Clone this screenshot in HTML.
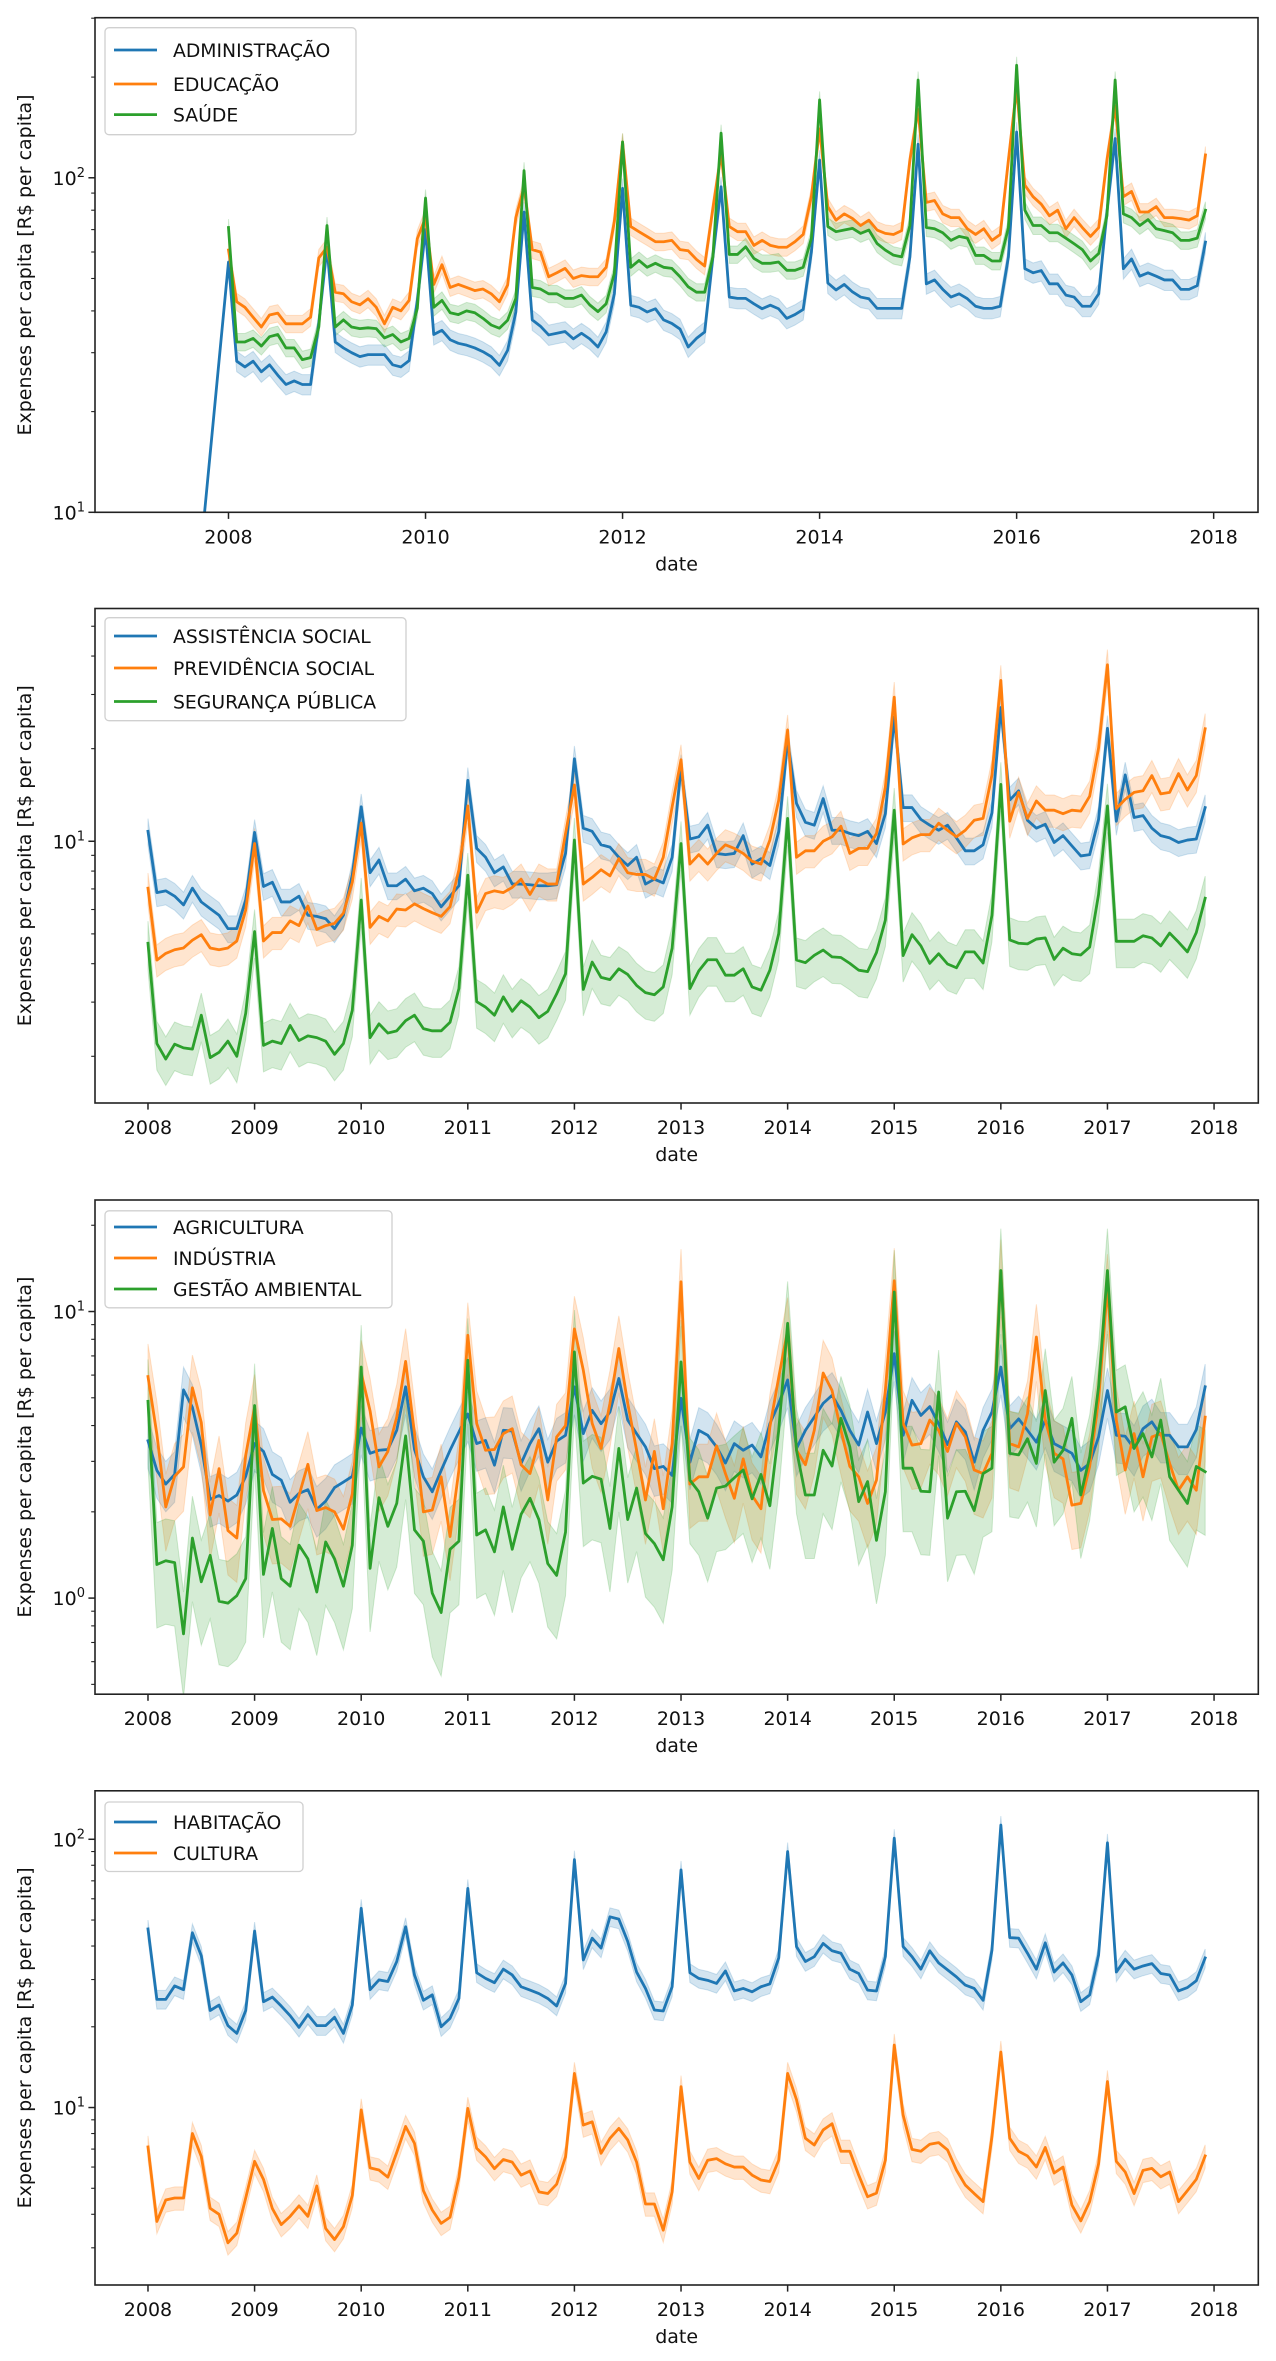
<!DOCTYPE html>
<html><head><meta charset="utf-8"><title>Expenses per capita</title>
<style>
html,body{margin:0;padding:0;background:#fff;}
svg{display:block;font-family:"DejaVu Sans","Liberation Sans",sans-serif;}
</style></head>
<body>
<svg id="fig" width="1276" height="2361" viewBox="0 0 1276 2361" xmlns="http://www.w3.org/2000/svg"></svg>
<script>
// ---------- DATA (monthly, Jan 2008 .. Dec 2017) ----------
const startYear = 2008;
const adminLeadYear = [2007.17];
const adminLeadValue = [0.155];
const administracao = [
56,28.3,27.2,28.3,26.3,27.6,25.7,24.1,24.7,24.1,24.1,36.8,
62,32.3,31,30,29.2,29.6,29.6,29.6,27.6,27.2,28.4,43,
70,34,35,32.8,32,31.6,31,30.2,29.2,27.5,30.5,39.7,
79,37.6,36,33.9,34.3,34.7,33,34.3,33,31.2,34.6,45,
93,41.6,41,39.7,40.6,37.6,36.7,35.3,31.2,33.1,34.6,58,
94,44,43.6,43.6,42,40.6,41.6,40.6,38,39,40.4,60,
113,48.5,46.2,48,45.6,44,43.5,40.7,40.7,40.7,40.7,58,
126,48.2,49.5,46.4,44,45,43.5,41.3,40.7,40.7,41.3,58,
137,53.5,52,52.8,48.2,48.2,44.6,44,41.3,41.3,45,79,
131,53.5,57.2,50.8,52,50.8,49.5,49.5,46.4,46.4,47.6,64.2];
const educacao = [
60.8,42.6,41,38.3,35.8,38.9,39.4,36.6,36.6,36.6,38.3,57.6,
62,45.5,45,42.6,41.7,43.5,41,36.6,41,40,43,65.8,
76,48,55,47,48,47,46,46.5,45,42.6,47.8,76,
94,61,60,50.6,52,53.6,50,51,50.6,50.6,54,74,
128,71.5,69,66.7,64.4,64.4,65,61,60.5,57,54.5,81,
118,71.5,69,69,62.8,65,62.8,62,62,64.4,67.7,88,
140,82,74.7,78,75.6,72,74.7,69.8,68.2,67.7,69.5,113,
160,84.4,85.5,78,76,76,70.4,67.7,70.4,65,67.7,113,
186,95,87.8,83.4,77,80,70.4,76,71,66.8,71,113,
164,87.8,91,79,79,82,76,76,75.5,74.7,77,117];
const saude = [
71,32.3,32.3,33.1,31.4,33.5,34,31,31,28.6,29,35.8,
72,35.8,37.6,35.8,35.4,35.6,35.4,33.2,34,32.3,33.1,40.7,
87,41,43,39.5,39,40,39.5,38,36.3,35.5,37.5,43.6,
105,47,46.5,45,45,43.6,43.6,44.6,41.7,39.8,42,51.8,
128,54,56.6,54,55.5,54,53.6,50.6,47.2,45.5,45.5,58,
136,59,59,62.2,57.4,55.5,55.5,56,52.9,52.9,54,66,
171,71.5,69,69.8,70.6,68.2,69.8,63.6,60.8,58.7,58,72,
196,71,70.4,68.5,65,66.8,66,58.6,58.6,56.4,56.4,71,
217,80,72,72,68.5,68.5,66,63.5,61,56.4,59.4,77,
196,78,76,72,75,70.4,69.5,68.5,65,65,66,80];
const assistencia = [
10.77,6.81,6.90,6.63,6.21,7.04,6.35,6.04,5.75,5.20,5.20,6.44,
10.69,7.13,7.36,6.35,6.35,6.63,5.75,5.70,5.60,5.20,5.75,7.78,
12.95,7.90,8.69,7.17,7.17,7.53,6.90,7.04,6.76,6.12,6.63,7.17,
15.79,9.48,8.87,7.90,8.25,7.26,7.26,7.22,7.17,7.17,7.22,9.13,
18.55,11.03,10.77,9.74,9.57,8.87,8.34,8.87,7.26,7.53,7.32,8.87,
17.38,10.17,10.34,11.28,9.13,9.05,9.13,10.43,8.43,8.78,8.34,10.77,
21.25,13.28,11.53,11.28,13.77,10.86,10.86,10.60,10.43,10.77,9.83,12.29,
25.31,12.87,12.87,11.78,11.28,10.86,11.28,10.26,9.31,9.31,9.74,12.37,
27.22,13.61,14.59,11.70,11.03,11.36,9.91,10.43,9.66,8.96,9.05,11.78,
23.29,11.62,16.43,11.95,12.12,11.03,10.43,10.26,9.91,10.09,10.17,12.87];
const previdencia = [
7.04,4.11,4.32,4.44,4.50,4.77,4.97,4.50,4.44,4.50,4.74,5.98,
9.83,4.74,5.05,5.05,5.51,5.32,6.16,5.17,5.32,5.41,5.84,7.36,
11.45,5.25,5.70,5.51,6.02,5.98,6.26,6.04,5.86,5.70,6.13,8.08,
13.03,5.88,6.76,6.90,6.81,7.08,7.53,6.72,7.53,7.26,7.26,10.60,
15.23,7.26,7.63,8.08,7.72,8.78,7.90,7.80,7.80,7.53,8.87,12.95,
18.40,8.43,9.05,8.43,9.13,9.74,9.48,9.13,8.61,8.43,10.09,13.61,
22.99,8.87,9.31,9.31,10.0,10.34,11.19,9.13,9.48,9.48,10.60,14.99,
29.41,9.80,10.26,10.51,10.51,11.45,10.86,10.34,10.86,11.70,11.87,16.43,
33.34,11.62,14.42,11.87,13.52,12.62,12.62,12.29,12.62,12.53,14.01,20.10,
37.48,12.78,13.69,14.42,14.59,16.35,14.26,14.42,16.59,14.67,16.35,23.22];
const seguranca = [
4.66,2.20,1.96,2.19,2.13,2.11,2.72,1.98,2.06,2.24,2.00,2.76,
5.09,2.17,2.24,2.20,2.52,2.25,2.33,2.30,2.24,2.03,2.20,2.82,
6.44,2.30,2.55,2.38,2.42,2.61,2.72,2.46,2.42,2.42,2.58,3.32,
7.76,3.01,2.89,2.72,3.12,2.80,3.03,2.89,2.67,2.80,3.19,3.71,
10.09,3.30,4.05,3.61,3.55,3.85,3.69,3.40,3.22,3.17,3.36,4.49,
9.83,3.32,3.79,4.12,4.12,3.67,3.67,3.85,3.36,3.28,3.81,5.01,
11.87,4.11,4.03,4.26,4.43,4.21,4.19,4.01,3.81,3.77,4.35,5.54,
12.62,4.25,4.97,4.57,4.01,4.31,3.99,3.88,4.37,4.37,4.02,5.75,
15.31,4.78,4.66,4.64,4.81,4.85,4.13,4.49,4.31,4.27,4.53,6.72,
13.03,4.73,4.73,4.73,4.93,4.85,4.57,5.03,4.70,4.37,5.05,6.53];
const agricultura = [
3.54,2.79,2.5,2.7,5.33,4.63,3.41,2.21,2.28,2.18,2.29,2.66,
3.46,3.25,2.7,2.58,2.16,2.32,2.39,2.04,2.18,2.43,2.54,2.66,
3.92,3.2,3.28,3.3,3.85,5.46,3.3,2.65,2.35,2.79,3.28,3.8,
4.39,3.46,3.55,2.91,3.85,3.83,2.95,3.46,3.9,2.98,3.53,3.7,
5.46,3.75,4.52,4.06,4.46,5.84,4.18,3.75,3.37,2.83,2.88,2.68,
4.98,2.98,3.85,3.7,3.37,2.96,3.46,3.28,3.42,3.11,4.06,4.78,
5.77,3.33,3.85,4.28,4.78,5.1,4.52,3.85,3.42,4.46,3.46,4.46,
7.13,3.7,4.9,4.34,4.66,4.06,3.43,4.12,3.8,2.98,3.85,4.46,
6.4,3.9,4.22,3.85,3.5,4.18,3.46,3.33,3.2,2.79,2.95,3.65,
5.3,3.7,3.67,3.33,3.9,4.12,3.7,3.7,3.37,3.37,3.87,5.46];
const industria = [
5.93,3.73,2.08,2.66,2.87,5.42,4.1,1.95,2.83,1.72,1.62,3.15,
4.64,2.37,1.88,1.89,1.78,2.28,2.93,2.02,2.07,2.0,1.74,2.31,
6.1,4.5,2.87,3.25,4.28,6.7,3.75,2.0,2.03,2.65,1.64,2.8,
8.26,4.07,3.28,3.3,3.75,3.9,2.92,2.72,3.55,2.2,3.65,4.0,
8.7,6.24,4.07,3.33,4.78,7.43,4.78,3.28,2.2,3.25,2.05,3.46,
12.7,2.5,2.65,2.65,3.4,2.72,2.23,3.06,2.28,2.05,3.95,5.9,
8.6,3.28,2.92,3.85,6.1,5.3,3.85,2.88,2.65,2.14,2.58,5.3,
12.8,4.07,3.42,3.46,4.18,3.85,3.25,4.07,3.65,2.8,2.72,3.2,
13.7,3.46,3.37,4.4,8.15,4.18,3.2,3.06,2.11,2.14,2.88,4.9,
12.2,4.18,2.8,3.75,2.65,3.65,3.75,2.95,2.38,2.65,2.38,4.28];
const gestaoAmbiental = [
4.86,1.31,1.35,1.33,0.75,1.62,1.14,1.41,0.975,0.96,1.02,1.17,
4.7,1.21,1.75,1.17,1.1,1.53,1.37,1.05,1.57,1.37,1.1,1.53,
6.4,1.27,2.24,1.78,2.14,3.68,1.73,1.58,1.04,0.89,1.48,1.58,
6.76,1.66,1.73,1.45,2.08,1.48,1.96,2.23,1.88,1.32,1.2,1.7,
7.23,2.52,2.66,2.6,1.75,3.33,1.88,2.42,1.68,1.55,1.36,2.08,
6.67,2.58,2.35,1.9,2.42,2.46,2.63,2.8,2.22,2.7,2.1,3.85,
9.1,3.28,2.29,2.29,3.28,2.89,4.24,3.37,2.17,2.55,1.59,2.35,
11.7,2.84,2.84,2.36,2.35,5.24,1.9,2.35,2.36,2.02,2.72,2.84,
13.9,3.2,3.16,3.6,2.95,5.3,2.98,3.28,4.24,2.29,3.11,5.46,
13.9,4.46,4.65,3.33,3.75,3.11,4.18,2.65,2.38,2.14,2.88,2.76];
const habitacao = [
46.3,25.3,25.3,28.4,27.5,44.8,36.8,23,24.1,20.2,18.9,23,
45.5,24.8,25.8,23.9,22.0,19.9,22.2,20.2,20.2,21.7,18.9,24.1,
55.3,27.5,29.9,29.5,35,47.2,31.2,25.1,26.3,20,21.5,25.5,
65.6,31.8,30.3,29.2,32.8,31.2,28.2,27.4,26.6,25.5,23.9,29,
84,35.5,42.8,39.3,51.4,50.4,41.6,32,27.8,23.1,22.9,28.2,
76.9,31.8,30.3,29.8,29,32.3,27.2,27.8,27,28.2,28.9,36.1,
90,39.8,35,36.5,40.9,38.4,37.6,32.8,31.6,27.4,27.2,36.5,
101,39.8,36.5,32.8,38.4,34.6,32.6,30.7,28.6,27.8,25.1,38.6,
113,43,42.8,37.6,32.8,41.1,32,34.6,31.2,24.8,26.3,37,
97,32,35.7,32.8,33.7,34.4,31.6,31.2,27.2,28,29.7,36.1];
const cultura = [
7.13,3.76,4.52,4.6,4.6,8.0,6.57,4.21,4.0,3.13,3.4,4.6,
6.3,5.4,4.2,3.66,3.93,4.3,3.93,5.1,3.54,3.22,3.6,4.7,
9.8,5.96,5.85,5.5,6.8,8.5,7.35,4.9,4.15,3.7,3.9,5.5,
9.93,7.05,6.55,5.92,6.4,6.26,5.6,5.8,4.85,4.78,5.18,6.55,
13.4,8.6,8.85,6.75,7.68,8.36,7.57,6.26,4.37,4.37,3.49,4.85,
11.96,6.26,5.44,6.36,6.45,6.17,6.0,6.0,5.6,5.37,5.3,6.36,
13.4,10.7,7.68,7.25,8.25,8.7,6.87,6.87,5.6,4.65,4.8,6.36,
17.1,9.38,6.98,6.87,7.3,7.4,6.95,5.85,5.14,4.78,4.46,7.8,
16.1,7.68,6.87,6.6,6.0,7.1,5.7,6.0,4.33,3.78,4.46,6.17,
12.5,6.3,5.75,4.78,5.83,5.93,5.52,5.75,4.46,4.9,5.4,6.6];
const panel1Labels = ["ADMINISTRAÇÃO","EDUCAÇÃO","SAÚDE"];
const panel2Labels = ["ASSISTÊNCIA SOCIAL","PREVIDÊNCIA SOCIAL","SEGURANÇA PÚBLICA"];
const panel3Labels = ["AGRICULTURA","INDÚSTRIA","GESTÃO AMBIENTAL"];
const panel4Labels = ["HABITAÇÃO","CULTURA"];
const panel1Ticks = [2008,2010,2012,2014,2016,2018];
const yearTicks = [2008,2009,2010,2011,2012,2013,2014,2015,2016,2017,2018];
// relative half-width of the confidence band per series
const ciP1 = [0.07,0.06,0.06];
const ciP2 = [0.1,0.12,0.18];
const ciP3 = [0.2,0.3,0.4];
const ciP4 = [0.08,0.1];

// ---------- RENDER ----------
const NS = "http://www.w3.org/2000/svg";
const svg = document.getElementById("fig");
const COLORS = ["#1f77b4","#ff7f0e","#2ca02c"];
function el(tag, attrs, parent){
  const e = document.createElementNS(NS, tag);
  for (const k in attrs) e.setAttribute(k, attrs[k]);
  (parent||svg).appendChild(e);
  return e;
}
const panels = [
  {id:"p1", top:17.7, bottom:512.3, left:95, right:1258, xmin:2006.645, xmax:2018.45, ymin:10, ymax:301,
   series:[administracao,educacao,saude], labels:panel1Labels, ci:ciP1, ticks:panel1Ticks,
   legend:{x:105,y:27.7,w:251,h:107,rows:[50,84,114.6]}},
  {id:"p2", top:608.5, bottom:1103, left:95, right:1258.3, xmin:2007.503, xmax:2018.415, ymin:1.41, ymax:57.1,
   series:[assistencia,previdencia,seguranca], labels:panel2Labels, ci:ciP2, ticks:yearTicks,
   legend:{x:105,y:617.7,w:301,h:103,rows:[636,668,701.5]}},
  {id:"p3", top:1200, bottom:1694.2, left:95, right:1258.3, xmin:2007.503, xmax:2018.415, ymin:0.462, ymax:24.5,
   series:[agricultura,industria,gestaoAmbiental], labels:panel3Labels, ci:ciP3, ticks:yearTicks,
   legend:{x:105,y:1210.8,w:287,h:97,rows:[1227,1258,1289]}},
  {id:"p4", top:1790.8, bottom:2285, left:95, right:1258.3, xmin:2007.503, xmax:2018.415, ymin:2.18, ymax:151.6,
   series:[habitacao,cultura], labels:panel4Labels, ci:ciP4, ticks:yearTicks,
   legend:{x:105,y:1802,w:198,h:69.5,rows:[1822,1853]}}
];

panels.forEach((p, pi) => {
  const g = el("g", {});
  
  
  const sx = v => p.left + (v - p.xmin) / (p.xmax - p.xmin) * (p.right - p.left);
  const lmin = Math.log10(p.ymin), lmax = Math.log10(p.ymax);
  const sy = v => p.bottom - (Math.log10(Math.max(v,1e-6)) - lmin) / (lmax - lmin) * (p.bottom - p.top);
  const clipId = "clip" + p.id;
  const cp = el("clipPath", {id: clipId}, g);
  el("rect", {x:p.left, y:p.top, width:p.right-p.left, height:p.bottom-p.top}, cp);
  const plot = el("g", {"clip-path":"url(#"+clipId+")"}, g);
  
  

  p.series.forEach((vals, si) => {
    const xs = vals.map((v,i) => startYear + i/12);
    const w = p.ci[si];
    let up = "", lo = "";
    vals.forEach((v,i) => { up += (i?"L":"M") + sx(xs[i]).toFixed(2) + "," + sy(v*(1+w)).toFixed(2); });
    for (let i = vals.length-1; i >= 0; i--) lo += "L" + sx(xs[i]).toFixed(2) + "," + sy(vals[i]*(1-w)).toFixed(2);
    const band = el("path", {d: up + lo + "Z", fill: COLORS[si], "fill-opacity": 0.2, stroke: COLORS[si], "stroke-opacity":0.2, "stroke-width":1}, plot);
    
    
  });
  p.series.forEach((vals, si) => {
    let d = "";
    let started = false;
    if (pi === 0 && si === 0) {
      d += "M" + sx(adminLeadYear[0]).toFixed(2) + "," + sy(adminLeadValue[0]).toFixed(2);
      started = true;
    }
    vals.forEach((v,i) => {
      d += (started ? "L" : "M") + sx(startYear + i/12).toFixed(2) + "," + sy(v).toFixed(2);
      started = true;
    });
    const line = el("path", {d: d, fill:"none", stroke: COLORS[si], "stroke-width": 2.8, "stroke-linejoin":"round", "stroke-linecap":"square"}, plot);
    
    
  });

  const frame = el("rect", {x:p.left, y:p.top, width:p.right-p.left, height:p.bottom-p.top, fill:"none", stroke:"#222", "stroke-width":1.6}, g);
  
  

  p.ticks.forEach(t => {
    const x = sx(t);
    el("line", {x1:x, x2:x, y1:p.bottom, y2:p.bottom+6.6, stroke:"#222", "stroke-width":1.5}, g);
    const tl = el("text", {x:x, y:p.bottom+31, "text-anchor":"middle", "font-size":19, fill:"#111"}, g);
    tl.textContent = String(t);
    
    
  });
  const xl = el("text", {x:(p.left+p.right)/2, y:p.bottom+58, "text-anchor":"middle", "font-size":19, fill:"#111"}, g);
  xl.textContent = "date";
  
  

  for (let k = Math.floor(lmin); k <= Math.ceil(lmax); k++) {
    for (let m = 1; m <= 9; m++) {
      const v = m * Math.pow(10, k);
      if (v < p.ymin || v > p.ymax) continue;
      const y = sy(v);
      const major = (m === 1);
      el("line", {x1:p.left - (major?6.6:3.8), x2:p.left, y1:y, y2:y, stroke:"#222", "stroke-width": major?1.5:1.1}, g);
      if (major) {
        const t = el("text", {x:p.left-10, y:y+7, "text-anchor":"end", "font-size":19, fill:"#111"}, g);
        
        
        const a = el("tspan", {}, t); a.textContent = "10";
        const b = el("tspan", {dy:-8, "font-size":13}, t); b.textContent = String(k);
      }
    }
  }
  const midY = (p.top + p.bottom)/2;
  const yl = el("text", {x:31, y:midY, "text-anchor":"middle", "font-size":19, fill:"#111", transform:"rotate(-90 31 " + midY + ")"}, g);
  yl.textContent = "Expenses per capita [R$ per capita]";
  
  

  const L = p.legend;
  const lg = el("g", {}, g);
  
  
  el("rect", {x:L.x, y:L.y, width:L.w, height:L.h, rx:4, fill:"#fff", "fill-opacity":0.8, stroke:"#d0d0d0", "stroke-width":1.3}, lg);
  p.labels.forEach((lab, si) => {
    const ry = L.rows[si];
    const e = el("g", {}, lg);
    
    
    el("line", {x1:L.x+9, x2:L.x+52, y1:ry, y2:ry, stroke:COLORS[si], "stroke-width":2.8}, e);
    const t = el("text", {x:L.x+68, y:ry+7, "font-size":18.8, fill:"#111"}, e);
    t.textContent = lab;
  });
});
</script>
</body></html>
